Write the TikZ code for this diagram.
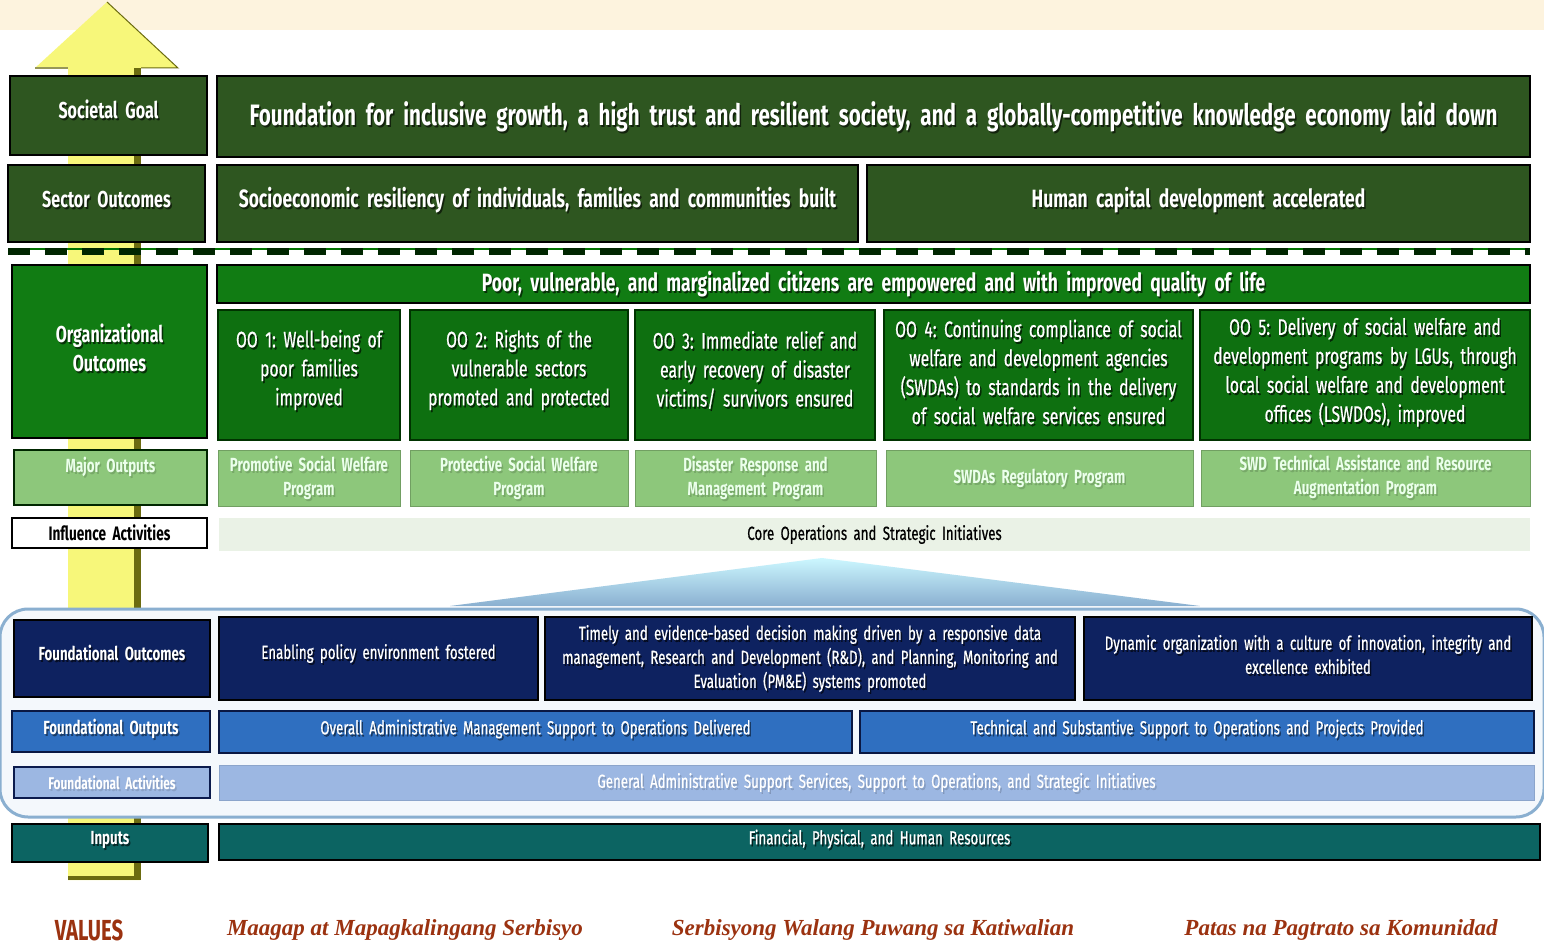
\documentclass[tikz,border=0pt]{standalone}
\usepackage{fontspec}
\setmainfont{Fira Sans}
\newfontfamily\cnd[FakeStretch=0.7,WordSpace=0.6]{Fira Sans}
\newfontfamily\cndm[FakeStretch=0.7,WordSpace=0.6,FakeBold=0.6]{Fira Sans}
\newfontfamily\scr{Liberation Serif}
\hyphenpenalty=10000
\exhyphenpenalty=10000
\frenchspacing
\usetikzlibrary{shadings}
\definecolor{cream}{HTML}{FDF3DE}
\definecolor{dgreen}{HTML}{2E5620}
\definecolor{ggreen}{HTML}{117C13}
\definecolor{oogreen}{HTML}{0E7010}
\definecolor{lgreen}{HTML}{8DC77B}
\definecolor{palegreen}{HTML}{EAF2E6}
\definecolor{navy}{HTML}{0E2260}
\definecolor{mblue}{HTML}{2F6FC0}
\definecolor{lblue}{HTML}{9CB7E2}
\definecolor{teal}{HTML}{0C6462}
\definecolor{frameb}{HTML}{8AAFD0}
\definecolor{framef}{HTML}{F4F8FC}
\definecolor{arrowy}{HTML}{F7F77A}
\definecolor{arrowd}{HTML}{6B6B10}
\definecolor{brown}{HTML}{9B3210}
% \mybox[text offset]{name}{x1}{y1}{x2}{y2}{style}{text}
\newcommand\mybox[8][0]{%
  \pgfmathsetmacro\myw{#5-#3}\pgfmathsetmacro\myh{#6-#4}%
  \pgfmathsetmacro\mytw{#5-#3-8}%
  \pgfmathsetmacro\mycx{(#3+#5)/2}\pgfmathsetmacro\mycy{(#4+#6)/2}%
  \pgfmathsetmacro\myty{(#4+#6)/2+#1}%
  \node[#7,minimum width=\myw pt,minimum height=\myh pt] (#2) at (\mycx,\mycy) {};
  \node[#7,draw=none,fill=none,text width=\mytw pt,text=black,text opacity=\shop] at (\mycx+1.5,\myty+2) {#8};
  \node[#7,draw=none,fill=none,text width=\mytw pt] (#2-t) at (\mycx,\myty) {#8};}
\tikzset{
  shadow op/.store in=\shop, shadow op=0.6,
  base/.style={inner sep=0pt,outer sep=0pt,align=center,font=\cnd\bfseries,text=white},
  goalbox/.style={base,fill=dgreen,draw=black,line width=2.5pt},
  orgbox/.style={base,fill=ggreen,draw=black,line width=2.5pt},
  oobox/.style={base,fill=oogreen,draw=black!80!green,line width=2pt,font=\cndm\fontsize{22.5}{29}\selectfont},
  majbox/.style={base,fill=lgreen,draw=lgreen!80!black,line width=0.8pt,text=white!92!green,shadow op=0.15,font=\cnd\bfseries\fontsize{19}{24}\selectfont},
  majlab/.style={majbox,draw=black!85!green,line width=2.5pt},
  inflab/.style={base,fill=white,draw=black,line width=2.5pt,text=black,shadow op=0,font=\cnd\bfseries\fontsize{19.5}{20}\selectfont},
  corebox/.style={base,fill=palegreen,text=black,shadow op=0,font=\cndm\fontsize{19}{20}\selectfont},
  navybox/.style={base,fill=navy,draw=black,line width=2pt,font=\cndm\fontsize{19}{24}\selectfont},
  bluebox/.style={base,fill=mblue,draw=navy!70!black,line width=2pt,shadow op=0.45,font=\cndm\fontsize{19}{22}\selectfont},
  lbluebox/.style={base,fill=lblue,draw=lblue!90!black,line width=1pt,text=white,shadow op=0.12,font=\cndm\fontsize{19}{22}\selectfont},
  lbluelab/.style={lbluebox,draw=navy!80!black,line width=2.5pt,font=\cnd\bfseries\fontsize{17}{20}\selectfont},
  tealbox/.style={base,fill=teal,draw=black,line width=2pt,font=\cndm\fontsize{19}{22}\selectfont},
  valtxt/.style={inner sep=0pt,text=brown,font=\scr\bfseries\itshape\fontsize{23}{26}\selectfont},
}
\begin{document}
\begin{tikzpicture}[x=1pt,y=-1pt]
\useasboundingbox (0,0) rectangle (1544,949);
\fill[white] (0,0) rectangle (1544,949);
\fill[cream] (0,0) rectangle (1544,30);
% yellow arrow
\fill[arrowy] (68,68) -- (35,68) -- (107,2) -- (178,68) -- (140,68) -- (140,880) -- (68,880) -- cycle;
\fill[arrowd] (134,68) rectangle (141,880);
\fill[arrowd] (68,876) rectangle (141,880);
\draw[arrowd,line width=1pt] (107,2) -- (178,68) -- (141,68);
\draw[arrowd!70,line width=2pt] (35,68) -- (68,68);
% societal goal row
\mybox[-6]{sg}{10}{76}{207}{155}{goalbox,font=\cnd\bfseries\fontsize{23}{26}\selectfont}{Societal Goal}
\mybox{goal}{217}{76}{1530}{157}{goalbox,font=\cnd\bfseries\fontsize{29.5}{34}\selectfont}{Foundation for inclusive growth, a high trust and resilient society, and a globally-competitive knowledge economy laid down}
% sector outcomes
\mybox[-4]{so}{8}{165}{205}{242}{goalbox,font=\cnd\bfseries\fontsize{23}{26}\selectfont}{Sector Outcomes}
\mybox[-3]{so1}{217}{165}{858}{242}{goalbox,font=\cnd\bfseries\fontsize{25}{28}\selectfont}{Socioeconomic resiliency of individuals, families and communities built}
\mybox[-3]{so2}{867}{165}{1530}{242}{goalbox,font=\cnd\bfseries\fontsize{25}{28}\selectfont}{Human capital development accelerated}
% dashed line
\coordinate (dl) at (8,252);
\coordinate (dr) at (1530,252);
\draw[green!45!black,line width=2pt] ([yshift=3pt]dl) -- ([yshift=3pt]dr);
\draw[black!85!green,line width=7pt,dash pattern=on 22pt off 15pt] (dl) -- (dr);
% organizational outcomes
\mybox[-4]{oo}{12}{265}{207}{438}{orgbox,font=\cnd\bfseries\fontsize{23}{29}\selectfont}{Organizational\\Outcomes}
\mybox{oobar}{217}{265}{1530}{303}{orgbox,line width=2pt,font=\cnd\bfseries\fontsize{25}{28}\selectfont}{Poor, vulnerable, and marginalized citizens are empowered and with improved quality of life}
\mybox[-5]{oo1}{218}{310}{400}{440}{oobox}{OO 1: Well-being of\\poor families\\improved}
\mybox[-5]{oo2}{410}{310}{628}{440}{oobox}{OO 2: Rights of the\\vulnerable sectors\\promoted and protected}
\mybox[-5]{oo3}{635}{310}{875}{440}{oobox}{OO 3: Immediate relief and\\early recovery of disaster\\victims/ survivors ensured}
\mybox[-3]{oo4}{884}{310}{1193}{440}{oobox}{OO 4: Continuing compliance of social\\welfare and development agencies\\(SWDAs) to standards in the delivery\\of social welfare services ensured}
\mybox[-3]{oo5}{1200}{310}{1530}{440}{oobox}{OO 5: Delivery of social welfare and\\development programs by LGUs, through\\local social welfare and development\\offices (LSWDOs), improved}
% major outputs
\mybox[-11]{mo}{14}{450}{207}{505}{majlab}{Major Outputs}
\mybox{mo1}{218}{450}{400}{506}{majbox}{Promotive Social Welfare\\Program}
\mybox{mo2}{410}{450}{628}{506}{majbox}{Protective Social Welfare\\Program}
\mybox{mo3}{635}{450}{876}{506}{majbox}{Disaster Response and\\Management Program}
\mybox{mo4}{886}{450}{1193}{506}{majbox}{SWDAs Regulatory Program}
\mybox[-1]{mo5}{1201}{450}{1530}{506}{majbox}{SWD Technical Assistance and Resource\\Augmentation Program}
% influence activities
\mybox{ia}{12}{518}{207}{548}{inflab}{Influence Activities}
\mybox{core}{219}{518}{1530}{551}{corebox}{Core Operations and Strategic Initiatives}
% triangle
\coordinate (ta) at (822,558);
\coordinate (tl) at (450,606);
\coordinate (tr) at (1200,606);
\shade[top color=blue!15!cyan!20,bottom color=frameb] (ta) -- (tl) -- (tr) -- cycle;
% frame
\draw[frameb,fill=framef,line width=3pt,rounded corners=28pt] (0,609) rectangle (1544,817);
% foundational outcomes
\mybox[-6]{fo}{14}{620}{210}{697}{navybox,font=\cnd\bfseries\fontsize{19}{24}\selectfont}{Foundational Outcomes}
\mybox[-5]{fo1}{219}{617}{538}{700}{navybox}{Enabling policy environment fostered}
\mybox{fo2}{545}{617}{1075}{700}{navybox}{Timely and evidence-based decision making driven by a responsive data\\management, Research and Development (R\&D), and Planning, Monitoring and\\Evaluation (PM\&E) systems promoted}
\mybox[-4]{fo3}{1084}{617}{1532}{700}{navybox}{Dynamic organization with a culture of innovation, integrity and\\excellence exhibited}
% foundational outputs
\mybox[-3]{fp}{12}{711}{210}{752}{bluebox,font=\cnd\bfseries\fontsize{19}{22}\selectfont}{Foundational Outputs}
\mybox[-3]{fp1}{219}{711}{852}{753}{bluebox}{Overall Administrative Management Support to Operations Delivered}
\mybox[-3]{fp2}{860}{711}{1534}{753}{bluebox}{Technical and Substantive Support to Operations and Projects Provided}
% foundational activities
\mybox{fa}{14}{767}{210}{798}{lbluelab}{Foundational Activities}
\mybox{fa1}{219}{765}{1534}{800}{lbluebox}{General Administrative Support Services, Support to Operations, and Strategic Initiatives}
% inputs
\mybox[-3]{in}{12}{824}{208}{862}{tealbox,font=\cnd\bfseries\fontsize{19}{22}\selectfont}{Inputs}
\mybox[-3]{in1}{219}{824}{1540}{860}{tealbox}{Financial, Physical, and Human Resources}
% values
\node[valtxt,font=\cnd\bfseries\fontsize{29}{30}\selectfont] (vals) at (89,930) {VALUES};
\node[valtxt] (v1) at (405,930) {Maagap at Mapagkalingang Serbisyo};
\node[valtxt] (v2) at (873,930) {Serbisyong Walang Puwang sa Katiwalian};
\node[valtxt] (v3) at (1341,930) {Patas na Pagtrato sa Komunidad};
\end{tikzpicture}
\end{document}
